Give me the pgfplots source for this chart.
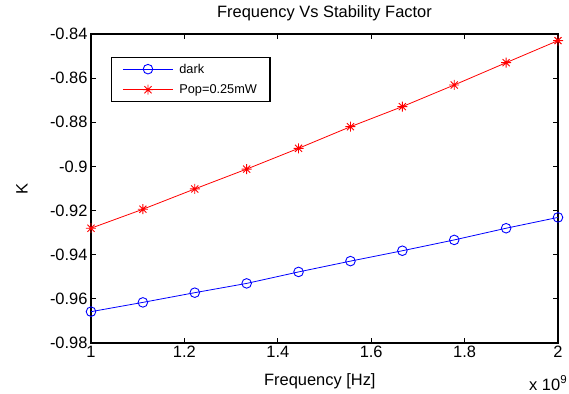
\documentclass[border=0pt]{standalone}
\usepackage{fontspec}
\setmainfont{Liberation Sans}
\usepackage{pgfplots}
\pgfplotsset{compat=1.18}
\pgfdeclareplotmark{mstar}{%
 \pgfpathmoveto{\pgfqpoint{-\pgfplotmarksize}{0pt}}\pgfpathlineto{\pgfqpoint{\pgfplotmarksize}{0pt}}%
 \pgfpathmoveto{\pgfqpoint{0pt}{-\pgfplotmarksize}}\pgfpathlineto{\pgfqpoint{0pt}{\pgfplotmarksize}}%
 \pgfpathmoveto{\pgfqpoint{-0.707\pgfplotmarksize}{-0.707\pgfplotmarksize}}\pgfpathlineto{\pgfqpoint{0.707\pgfplotmarksize}{0.707\pgfplotmarksize}}%
 \pgfpathmoveto{\pgfqpoint{-0.707\pgfplotmarksize}{0.707\pgfplotmarksize}}\pgfpathlineto{\pgfqpoint{0.707\pgfplotmarksize}{-0.707\pgfplotmarksize}}%
 \pgfusepathqstroke}
\definecolor{mblue}{RGB}{0,0,255}
\definecolor{mred}{RGB}{255,0,0}
\begin{document}
\begin{tikzpicture}
\useasboundingbox (-91bp,-51bp) rectangle (478bp,343bp);
\begin{axis}[
  at={(0,0)}, anchor=south west,
  scale only axis, width=467bp, height=309bp,
  xmin=1, xmax=2, ymin=-0.98, ymax=-0.84,
  xtick={1,1.2,1.4,1.6,1.8,2},
  ytick={-0.98,-0.96,-0.94,-0.92,-0.9,-0.88,-0.86,-0.84},
  scaled ticks=false,
  tick align=inside, major tick length=5bp,
  tick style={black, line width=0.8bp},
  axis line style={black, line width=1.4bp},
  /pgf/number format/assume math mode=true,
  /pgf/number format/fixed, /pgf/number format/precision=2,
  ticklabel style={font=\fontsize{16.5}{19}\selectfont},
  label style={font=\fontsize{16.5}{19}\selectfont},
  title style={font=\fontsize{16.5}{19}\selectfont, at={(axis description cs:0.5,1)}, anchor=base, yshift=11bp},
  title={Frequency Vs Stability Factor},
  xlabel={Frequency [Hz]},
  xlabel style={at={(axis description cs:0.49,0)}, anchor=base, yshift=-42bp},
  ylabel={K},
  ylabel style={at={(axis description cs:-0.148,0.498)}, anchor=center},
  legend style={at={(axis description cs:0.0428,0.9265)}, anchor=north west, draw=black, line width=1.2bp,
     font=\fontsize{12.8}{15}\selectfont, inner xsep=11bp, inner ysep=4.5bp, row sep=6bp},
  legend cell align=left,
  legend image code/.code={\draw[mark repeat=2,mark phase=2] plot coordinates {(0bp,0bp)(25bp,0bp)(50bp,0bp)};\path (54bp,0bp);},
]
\addplot[mblue, line width=0.8bp, mark=o, mark size=4.8bp, mark options={line width=0.9bp}] coordinates {
(1.0000,-0.9658) (1.1111,-0.9616) (1.2222,-0.9572) (1.3333,-0.9530) (1.4444,-0.9478)
(1.5556,-0.9429) (1.6667,-0.9382) (1.7778,-0.9333) (1.8889,-0.9280) (2.0000,-0.9231)};
\addlegendentry{dark}
\addplot[mred, line width=0.8bp, mark=mstar, mark size=5bp, mark options={line width=0.9bp}] coordinates {
(1.0000,-0.9280) (1.1111,-0.9194) (1.2222,-0.9102) (1.3333,-0.9012) (1.4444,-0.8918)
(1.5556,-0.8820) (1.6667,-0.8729) (1.7778,-0.8631) (1.8889,-0.8530) (2.0000,-0.8430)};
\addlegendentry{Pop=0.25mW\hspace{2bp}}
\end{axis}
\node[anchor=base west, font=\fontsize{16.5}{19}\selectfont, inner sep=0pt] at (438bp,-47bp) {x 10\textsuperscript{9}};
\end{tikzpicture}
\end{document}
